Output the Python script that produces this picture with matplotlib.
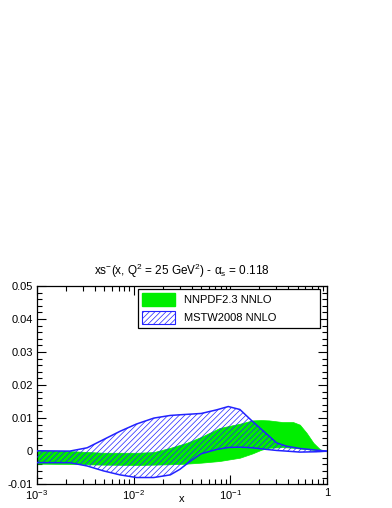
import numpy as np
import matplotlib
matplotlib.use("Agg")
import matplotlib.pyplot as plt
from matplotlib.patches import Patch
from matplotlib.ticker import FixedLocator, FuncFormatter, MultipleLocator

plt.rcParams['font.family'] = ['Liberation Sans', 'DejaVu Sans']
plt.rcParams['mathtext.fontset'] = 'custom'
plt.rcParams['mathtext.rm'] = 'Liberation Sans'
plt.rcParams['mathtext.it'] = 'Liberation Sans'
plt.rcParams['hatch.linewidth'] = 0.5

# NNPDF2.3 NNLO band (log10 x, lower, upper)
nnpdf_logx = [-3.0, -2.66, -2.31, -1.97, -1.79, -1.62, -1.45, -1.30, -1.11,
              -0.90, -0.77, -0.68, -0.60, -0.46, -0.35, -0.28, -0.21, -0.14,
              -0.07, 0.0]
nnpdf_up = [0.0002, 0.0, -0.0005, -0.0005, -0.0003, 0.0010, 0.0025, 0.0043,
            0.0070, 0.0083, 0.0093, 0.0094, 0.0093, 0.0088, 0.0088, 0.0080,
            0.0055, 0.0025, 0.0005, 0.0]
nnpdf_lo = [-0.0038, -0.0039, -0.0041, -0.0042, -0.0041, -0.0040, -0.0038,
            -0.0035, -0.0030, -0.0020, -0.0007, 0.0004, 0.0010, 0.0012,
            0.0010, 0.0008, 0.0006, 0.0004, 0.0002, 0.0]

# MSTW2008 NNLO band
mstw_logx = [-3.0, -2.66, -2.48, -2.31, -2.14, -1.97, -1.79, -1.62, -1.52,
             -1.41, -1.30, -1.14, -1.02, -0.90, -0.77, -0.62, -0.52, -0.42,
             -0.28, -0.11, 0.0]
mstw_up = [0.0001, 0.0, 0.0010, 0.0035, 0.0060, 0.0082, 0.0100, 0.0108,
           0.0110, 0.0112, 0.0114, 0.0125, 0.0135, 0.0126, 0.0090, 0.0051,
           0.0025, 0.0015, 0.0008, 0.0003, 0.0]
mstw_lo = [-0.0035, -0.0035, -0.0045, -0.0060, -0.0072, -0.0080, -0.0080,
           -0.0072, -0.0055, -0.0030, -0.0008, 0.0005, 0.0011, 0.0012,
           0.0010, 0.0005, 0.0002, 0.0, -0.0003, -0.0002, 0.0]

labels = ['NNPDF2.3 NNLO', 'MSTW2008 NNLO']
green = '#00ee00'
blue = '#2222ff'

fig = plt.figure(figsize=(3.92, 5.08), dpi=100)
ax = fig.add_axes([0.094, 0.047, 0.740, 0.390])

x_n = 10 ** np.array(nnpdf_logx)
x_m = 10 ** np.array(mstw_logx)

ax.fill_between(x_n, nnpdf_lo, nnpdf_up, facecolor=green, edgecolor=green,
                linewidth=0.5, zorder=2)
ax.fill_between(x_m, mstw_lo, mstw_up, facecolor='none', edgecolor=blue,
                hatch='//////', linewidth=0, zorder=3)
ax.plot(x_m, mstw_up, color=blue, lw=1.1, zorder=4)
ax.plot(x_m, mstw_lo, color=blue, lw=1.1, zorder=4)

ax.set_xscale('log')
ax.set_xlim(1e-3, 1)
ax.set_ylim(-0.01, 0.05)

ax.xaxis.set_major_locator(FixedLocator([1e-3, 1e-2, 1e-1, 1]))
ax.xaxis.set_major_formatter(FuncFormatter(
    lambda v, p: '1' if abs(v - 1) < 1e-9 else r'$10^{%d}$' % round(np.log10(v))))
ax.yaxis.set_major_locator(MultipleLocator(0.01))
ax.yaxis.set_minor_locator(MultipleLocator(0.002))
ax.yaxis.set_major_formatter(FuncFormatter(
    lambda v, p: '0' if abs(v) < 1e-9 else '%.2f' % v))

ax.tick_params(which='both', direction='in', top=True, right=True,
               labelsize=8, width=0.8)
ax.tick_params(which='major', length=6.5, pad=3)
ax.tick_params(which='minor', length=3.5)
for s in ax.spines.values():
    s.set_linewidth(0.9)

ax.set_xlabel('x', fontsize=8)
ax.xaxis.set_label_coords(0.5, -0.052)
ax.set_title(r'xs$^{-}$(x, Q$^{2}$ = 25 GeV$^{2}$) - $\alpha_{s}$ = 0.118',
             fontsize=8.5, pad=8)

handles = [Patch(facecolor=green, edgecolor=green),
           Patch(facecolor='white', edgecolor=blue, hatch='//////', lw=0.8)]
leg = ax.legend(handles, labels, loc='upper left',
                bbox_to_anchor=(0.348, 0.753, 0.628, 0.232), mode='expand',
                fontsize=8, frameon=True, fancybox=False, framealpha=1,
                edgecolor='black', handlelength=3.0, handleheight=1.45,
                borderpad=0.35, labelspacing=0.45, handletextpad=0.8,
                borderaxespad=0)
leg.get_frame().set_linewidth(0.9)

fig.savefig('out.png', dpi=100)
